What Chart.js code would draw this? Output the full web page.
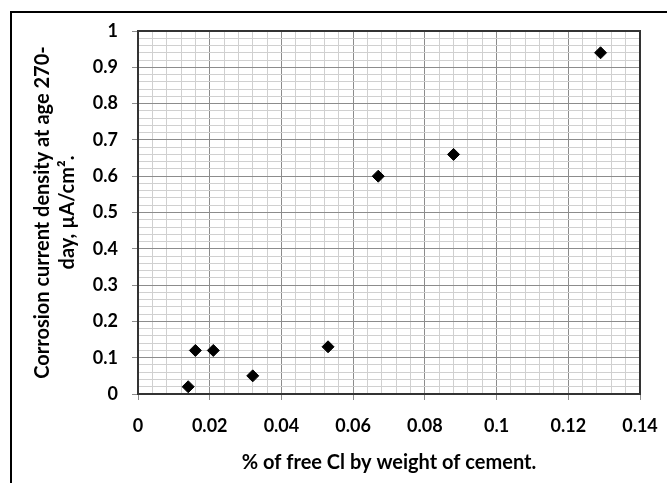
<!DOCTYPE html>
<html>
<head>
<meta charset="utf-8">
<script src="https://cdn.jsdelivr.net/npm/chart.js@4"></script>
<style>
  html, body { margin: 0; padding: 0; background: #fff; overflow: hidden; }
  #wrap { position: relative; width: 667px; height: 483px; overflow: hidden; background: #fff; }
  #frame { position: absolute; left: 10px; top: 11px; width: 720px; height: 520px; border: 2px solid #000; box-sizing: border-box; }
  canvas { position: absolute; left: 0; top: 0; }
</style>
</head>
<body>
<div id="wrap">
  <div id="frame"></div>
  <canvas id="c" width="667" height="483"></canvas>
</div>
<script>
// ---- data ----
const freeCl = [0.014, 0.016, 0.021, 0.032, 0.053, 0.067, 0.088, 0.129];
const currentDensity = [0.02, 0.12, 0.12, 0.05, 0.13, 0.60, 0.66, 0.94];
const xTickLabels = ['0', '0.02', '0.04', '0.06', '0.08', '0.1', '0.12', '0.14'];
const yTickLabels = ['0', '0.1', '0.2', '0.3', '0.4', '0.5', '0.6', '0.7', '0.8', '0.9', '1'];
const xTitle = '% of free Cl by weight of cement.';
const yTitle = ['Corrosion current density at age 270-', 'day, µA/cm².'];

const points = freeCl.map((x, i) => ({ x: x, y: currentDensity[i] }));

const MAJOR = '#8c8c8c';
const MINOR = '#d0d0d0';

Chart.defaults.font.family = 'Lato';
Chart.defaults.font.size = 18;
Chart.defaults.font.weight = 'bold';
Chart.defaults.color = '#000';

const plotBorder = {
  id: 'plotBorder',
  beforeDatasetsDraw(chart) {
    const a = chart.chartArea, ctx = chart.ctx;
    ctx.save();
    ctx.strokeStyle = '#333';
    ctx.lineWidth = 2;
    ctx.strokeRect(a.left, a.top, a.right - a.left, a.bottom - a.top);
    ctx.restore();
  }
};

new Chart(document.getElementById('c'), {
  type: 'scatter',
  data: {
    datasets: [{
      data: points,
      pointStyle: 'rectRot',
      pointRadius: 6,
      pointHoverRadius: 6,
      backgroundColor: '#000',
      borderColor: '#000',
      borderWidth: 1
    }]
  },
  options: {
    responsive: false,
    animation: false,
    devicePixelRatio: 1,
    layout: { padding: { left: 0, top: 31, right: 27, bottom: 0 } },
    plugins: { legend: { display: false }, tooltip: { enabled: false } },
    scales: {
      x: {
        type: 'linear',
        min: 0, max: 0.14,
        afterFit(s) { s.height = 483 - 394; s.paddingLeft = 0; s.paddingRight = 0; },
        ticks: {
          stepSize: 0.004,
          autoSkip: false,
          maxRotation: 0,
          padding: 15,
          callback: (v, i) => (i % 5 === 0 ? xTickLabels[i / 5] : '')
        },
        grid: {
          color: (c) => (c.index % 5 === 0 ? MAJOR : MINOR),
          tickColor: (c) => (c.index % 5 === 0 ? MAJOR : 'rgba(0,0,0,0)'),
          tickLength: 6,
          lineWidth: 1
        },
        border: { color: '#333', width: 2 },
        title: { display: true, text: xTitle, font: { size: 20 }, lineHeight: 1.2, padding: { top: 0, bottom: 8 } }
      },
      y: {
        type: 'linear',
        min: 0, max: 1,
        afterFit(s) { s.width = 138; s.paddingTop = 0; s.paddingBottom = 0; },
        ticks: {
          stepSize: 0.02,
          autoSkip: false,
          padding: 14,
          callback: (v, i) => (i % 5 === 0 ? yTickLabels[i / 5] : '')
        },
        grid: {
          color: (c) => (c.index % 5 === 0 ? MAJOR : MINOR),
          tickColor: (c) => (c.index % 5 === 0 ? MAJOR : 'rgba(0,0,0,0)'),
          tickLength: 6,
          lineWidth: 1
        },
        border: { color: '#333', width: 2 },
        title: { display: true, text: yTitle, font: { size: 20, lineHeight: 1.25 }, padding: { top: 30, bottom: 0 } }
      }
    }
  },
  plugins: [plotBorder]
});
</script>
</body>
</html>
